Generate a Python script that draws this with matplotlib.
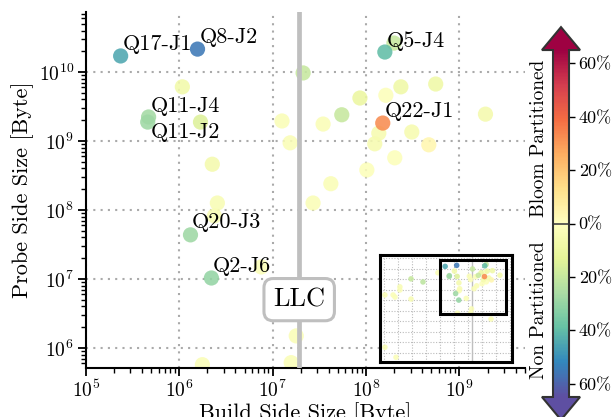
import matplotlib
matplotlib.use('Agg')
import matplotlib.pyplot as plt
from matplotlib.patches import Polygon, Rectangle
from matplotlib.colors import Normalize
from matplotlib.ticker import LogLocator, NullFormatter, FuncFormatter
import numpy as np

plt.rcParams['font.family'] = 'cmr10'
plt.rcParams['mathtext.fontset'] = 'cm'
plt.rcParams['axes.formatter.use_mathtext'] = True

# build / probe side sizes in bytes, relative gain of bloom-filtered partitioning
build = [2.36e5, 1.57e6, 1.08e6, 4.7e5, 4.6e5, 1.69e6, 1.26e7, 1.54e7, 2.26e6,
         1.99e8, 1.59e8, 2.12e7, 2.36e8, 5.57e8, 1.63e8, 8.6e7, 5.5e7, 3.47e7,
         1.9e9, 1.37e8, 3.09e8, 1.24e8, 4.7e8, 2.03e8, 1.02e8, 4.2e7, 2.71e7,
         2.56e6, 2.38e6, 1.32e6, 2.21e6, 7.55e6, 1.77e6, 1.58e7, 1.79e7, 1.51e8,
         870, 6.2e3, 140, 12, 46, 870, 12, 74, 7.2e4, 4.4e8, 140, 63]
probe = [1.71e10, 2.15e10, 6.1e9, 2.23e9, 1.88e9, 1.88e9, 1.95e9, 9.4e8, 4.6e8,
         2.63e10, 1.95e10, 9.7e9, 6.1e9, 6.7e9, 4.6e9, 4.2e9, 2.4e9, 1.76e9,
         2.45e9, 1.3e9, 1.35e9, 9.1e8, 8.8e8, 5.7e8, 3.8e8, 2.4e8, 1.26e8,
         1.26e8, 8.2e7, 4.35e7, 1.03e7, 1.49e7, 5.7e5, 6.1e5, 1.49e6, 1.82e9,
         1.1e9, 5.6e8, 1.9e8, 3.2e7, 3.2e7, 1.3e7, 320, 35, 4.2e9, 1.6e5, 9.5e7, 2e7]
gain = [-0.45, -0.55, -0.07, -0.27, -0.28, -0.15, -0.03, -0.03, -0.06,
        -0.20, -0.40, -0.20, -0.08, -0.08, -0.02, -0.10, -0.20, -0.03,
        -0.06, -0.05, -0.05, -0.05, 0.04, -0.02, -0.02, -0.03, -0.03,
        -0.04, -0.04, -0.28, -0.30, -0.03, -0.03, -0.03, -0.03, 0.33,
        -0.20, -0.22, -0.04, -0.03, -0.03, -0.04, -0.04, -0.03, -0.03, -0.03, -0.03, -0.03]

# named joins: (label, point index, text offset in pixels)
names = ['Q17-J1', 'Q8-J2', 'Q11-J4', 'Q11-J2', 'Q5-J4', 'Q22-J1', 'Q20-J3', 'Q2-J6']
name_idx = [0, 1, 3, 4, 10, 35, 29, 30]
name_off = [(2, 6), (2, 6), (2, 5), (3, -16), (2, 5), (2, 6), (1, 7), (1, 6)]

LLC = 1.925e7
cmap = plt.get_cmap('Spectral_r')
norm = Normalize(vmin=-0.65, vmax=0.65)

build = np.array(build)
probe = np.array(probe)
gain = np.array(gain)
order = np.argsort(np.abs(gain), kind='stable')

fig = plt.figure(figsize=(6.13, 4.17), dpi=100)
ax = fig.add_axes([0.140, 0.1175, 0.716, 0.8535])

ax.scatter(build[order], probe[order], c=gain[order], cmap=cmap, norm=norm,
           s=120, alpha=0.88, linewidths=0, zorder=2)
ax.set_xscale('log')
ax.set_yscale('log')
ax.set_xlim(1e5, 5e9)
ax.set_ylim(5.1e5, 7.4e10)
ax.grid(True, which='major', color='#aaaaaa', linestyle=(0, (1, 2.5)), linewidth=1.5)
ax.set_axisbelow(True)
for s in ['top', 'right']:
    ax.spines[s].set_visible(False)
for s in ['left', 'bottom']:
    ax.spines[s].set_linewidth(1.5)
ax.xaxis.set_major_locator(LogLocator(base=10, numticks=12))
ax.yaxis.set_major_locator(LogLocator(base=10, numticks=12))
ax.xaxis.set_minor_locator(LogLocator(base=10, subs=np.arange(2, 10), numticks=12))
ax.yaxis.set_minor_locator(LogLocator(base=10, subs=np.arange(2, 10), numticks=12))
ax.xaxis.set_minor_formatter(NullFormatter())
ax.yaxis.set_minor_formatter(NullFormatter())
ax.tick_params(which='major', length=6, width=1.3, labelsize=14, pad=2.5)
ax.tick_params(which='minor', length=3.5, width=1.0)
ax.set_xlabel('Build Side Size [Byte]', fontsize=16, labelpad=1)
ax.set_ylabel('Probe Side Size [Byte]', fontsize=16, labelpad=3)

ax.axvline(LLC, color='#bfbfbf', linewidth=3.4, zorder=3)
ax.text(LLC, 5e6, 'LLC', fontsize=19, ha='center', va='center', zorder=4,
        bbox=dict(boxstyle='round,pad=0.35', facecolor='white',
                  edgecolor='#bfbfbf', linewidth=2.2))

for name, i, off in zip(names, name_idx, name_off):
    ax.annotate(name, (build[i], probe[i]), xytext=off, textcoords='offset pixels',
                fontsize=16, ha='left', va='baseline', zorder=5)

# overview of all joins, including those outside the main range
ins = fig.add_axes([0.620, 0.132, 0.215, 0.257])
ins.scatter(build[order], probe[order], c=gain[order], cmap=cmap, norm=norm,
            s=16, alpha=0.88, linewidths=0, zorder=2)
ins.set_xscale('log')
ins.set_yscale('log')
ins.set_xlim(5.4, 1.35e10)
ins.set_ylim(12.6, 2.2e11)
ins.xaxis.set_major_locator(LogLocator(base=10, numticks=20))
ins.yaxis.set_major_locator(LogLocator(base=10, numticks=20))
ins.grid(True, which='major', color='#bbbbbb', linestyle=(0, (1, 1.5)), linewidth=0.8)
ins.set_axisbelow(True)
ins.tick_params(which='both', length=0, labelbottom=False, labelleft=False)
for s in ins.spines.values():
    s.set_linewidth(2.2)
ins.axvline(LLC, color='#bfbfbf', linewidth=1, zorder=1)
ins.add_patch(Rectangle((1e5, 5.1e5), 5e9 - 1e5, 7.4e10 - 5.1e5, fill=False,
                        edgecolor='black', linewidth=2.2, zorder=4))

# colorbar with arrow heads
cax = fig.add_axes([553 / 613, 0.048, 16 / 613, 0.832])
cb = fig.colorbar(plt.cm.ScalarMappable(norm=norm, cmap=cmap), cax=cax)
cb.outline.set_visible(False)
cb.set_ticks([-0.6, -0.4, -0.2, 0, 0.2, 0.4, 0.6])
cb.ax.yaxis.set_major_formatter(FuncFormatter(lambda v, p: '%d%%' % round(abs(v) * 100)))
cax.tick_params(length=4, width=1.0, labelsize=13, pad=3)
cax.axhline(0, color='#444444', linewidth=1.2)
head = 0.066
wl, wr = -0.69, 1.69
trans = cax.transAxes
cax.add_patch(Polygon([[wl, 1], [wr, 1], [0.5, 1 + head]], closed=True, transform=trans,
                      facecolor=cmap(1.0), edgecolor='none', clip_on=False))
cax.add_patch(Polygon([[wl, 0], [wr, 0], [0.5, -head]], closed=True, transform=trans,
                      facecolor=cmap(0.0), edgecolor='none', clip_on=False))
outline = [[0.5, -head], [wl, 0], [0, 0], [0, 1], [wl, 1], [0.5, 1 + head],
           [wr, 1], [1, 1], [1, 0], [wr, 0]]
cax.add_patch(Polygon(outline, closed=True, transform=trans, fill=False,
                      edgecolor='#333333', linewidth=1.5, clip_on=False, zorder=5))
cax.text(-0.9, 0.746, 'Bloom Partitioned', transform=trans, rotation=90,
         ha='center', va='center', fontsize=14)
cax.text(-0.9, 0.25, 'Non Partitioned', transform=trans, rotation=90,
         ha='center', va='center', fontsize=14)

fig.savefig('out.png', dpi=100)
